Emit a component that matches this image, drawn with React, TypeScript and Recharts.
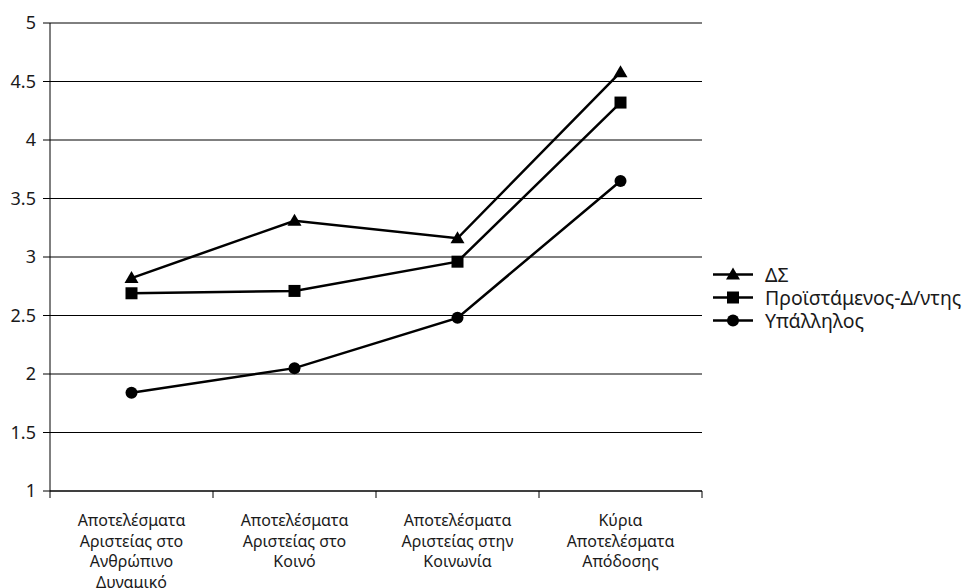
import {
  CartesianGrid,
  Legend,
  Line,
  LineChart,
  XAxis,
  YAxis,
} from "recharts";

const categories = [
  ["Αποτελέσματα", "Αριστείας στο", "Ανθρώπινο", "Δυναμικό"],
  ["Αποτελέσματα", "Αριστείας στο", "Κοινό"],
  ["Αποτελέσματα", "Αριστείας στην", "Κοινωνία"],
  ["Κύρια", "Αποτελέσματα", "Απόδοσης"],
];
const categoryPos = [0.5, 1.5, 2.5, 3.5];

const dsValues = [2.82, 3.31, 3.16, 4.58];
const supervisorValues = [2.69, 2.71, 2.96, 4.32];
const employeeValues = [1.84, 2.05, 2.48, 3.65];

const yTicks = [1, 1.5, 2, 2.5, 3, 3.5, 4, 4.5, 5];
const xTicks = [0, 0.5, 1, 1.5, 2, 2.5, 3, 3.5, 4];

const seriesNames = {
  ds: "ΔΣ",
  sup: "Προϊστάμενος-Δ/ντης",
  emp: "Υπάλληλος",
};

const data = categoryPos.map((x, i) => ({
  x,
  ds: dsValues[i],
  sup: supervisorValues[i],
  emp: employeeValues[i],
}));

const FONT = "'Noto Sans', 'Open Sans', sans-serif";
const TEXT = "#1a1a1a";

type Shape = "triangle" | "square" | "circle";

function markerPath(shape: Shape, cx: number, cy: number) {
  if (shape === "triangle") {
    return <path d={`M${cx},${cy - 7} L${cx + 7},${cy + 5} L${cx - 7},${cy + 5} Z`} fill="#000" />;
  }
  if (shape === "square") {
    return <rect x={cx - 6} y={cy - 6} width={12} height={12} fill="#000" />;
  }
  return <circle cx={cx} cy={cy} r={6} fill="#000" />;
}

function makeDot(shape: Shape) {
  return (props: any) => {
    const { cx, cy, index } = props;
    if (cx == null || cy == null) return <g key={`${shape}-${index}`} />;
    return <g key={`${shape}-${index}`}>{markerPath(shape, cx, cy)}</g>;
  };
}

// integer ticks mark category boundaries, half ticks carry the labels
function XTick(props: any) {
  const { x, y, payload } = props;
  const v = payload.value as number;
  if (Number.isInteger(v)) {
    return <line x1={x} x2={x} y1={y - 7} y2={y} stroke="#000" strokeWidth={1} />;
  }
  const lines = categories[categoryPos.indexOf(v)] ?? [];
  return (
    <text x={x} y={y} textAnchor="middle" fill={TEXT} fontSize={16} fontFamily={FONT}>
      {lines.map((t, i) => (
        <tspan key={i} x={x} dy={i === 0 ? 28 : 20.5}>
          {t}
        </tspan>
      ))}
    </text>
  );
}

const legendItems: { key: keyof typeof seriesNames; shape: Shape }[] = [
  { key: "ds", shape: "triangle" },
  { key: "sup", shape: "square" },
  { key: "emp", shape: "circle" },
];

function LegendContent() {
  return (
    <div style={{ paddingLeft: 11, paddingTop: 6 }}>
      {legendItems.map((item) => (
        <div key={item.key} style={{ display: "flex", alignItems: "center", height: 23 }}>
          <svg width={52} height={23} style={{ flex: "none" }}>
            <line x1={0} x2={40} y1={11.5} y2={11.5} stroke="#000" strokeWidth={2.5} />
            {markerPath(item.shape, 20, 11.5)}
          </svg>
          <span
            style={{
              fontFamily: FONT,
              fontSize: 19.5,
              lineHeight: "23px",
              color: TEXT,
              whiteSpace: "nowrap",
            }}
          >
            {seriesNames[item.key]}
          </span>
        </div>
      ))}
    </div>
  );
}

export default function App() {
  return (
    <div style={{ position: "fixed", left: 0, top: 0, width: 971, height: 588, background: "#fff" }}>
      <LineChart
        width={971}
        height={588}
        data={data}
        margin={{ top: 23, right: 10, bottom: 0, left: 0 }}
      >
        <CartesianGrid stroke="#000" strokeWidth={1} vertical={false} />
        <XAxis
          dataKey="x"
          type="number"
          domain={[0, 4]}
          ticks={xTicks}
          interval={0}
          height={97}
          tickSize={7}
          tickMargin={0}
          tickLine={false}
          axisLine={{ stroke: "#000", strokeWidth: 1 }}
          tick={<XTick />}
        />
        <YAxis
          domain={[1, 5]}
          ticks={yTicks}
          width={50}
          tickSize={7}
          tickMargin={7}
          interval={0}
          axisLine={{ stroke: "#000", strokeWidth: 1 }}
          tickLine={{ stroke: "#000" }}
          tick={{ fill: TEXT, fontSize: 18, fontFamily: FONT }}
        />
        <Legend
          layout="vertical"
          align="right"
          verticalAlign="middle"
          content={<LegendContent />}
          wrapperStyle={{ width: 259 }}
        />
        <Line
          dataKey="ds"
          name={seriesNames.ds}
          stroke="#000"
          strokeWidth={2.5}
          dot={makeDot("triangle")}
          activeDot={false}
          isAnimationActive={false}
        />
        <Line
          dataKey="sup"
          name={seriesNames.sup}
          stroke="#000"
          strokeWidth={2.5}
          dot={makeDot("square")}
          activeDot={false}
          isAnimationActive={false}
        />
        <Line
          dataKey="emp"
          name={seriesNames.emp}
          stroke="#000"
          strokeWidth={2.5}
          dot={makeDot("circle")}
          activeDot={false}
          isAnimationActive={false}
        />
      </LineChart>
    </div>
  );
}
